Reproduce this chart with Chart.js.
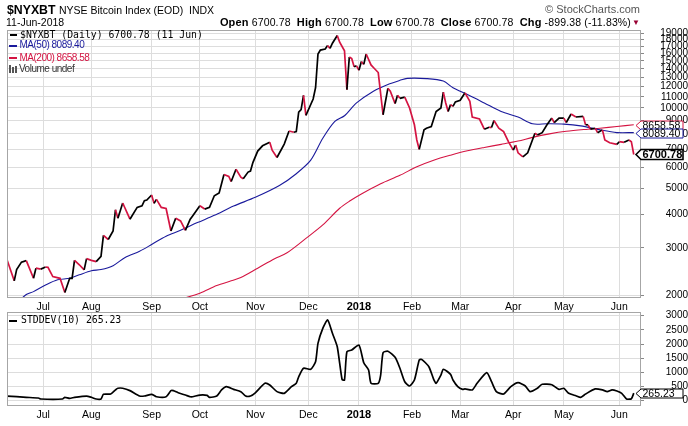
<!DOCTYPE html>
<html>
<head>
<meta charset="utf-8">
<script src="https://cdn.jsdelivr.net/npm/chart.js@4.4.1/dist/chart.umd.min.js"></script>
<style>
  html, body { margin: 0; padding: 0; background: #fff; }
  #wrap { position: relative; width: 688px; height: 426px; overflow: hidden; font-family: 'Liberation Sans', Arial, sans-serif; color: #000; }
  canvas { position: absolute; left: 0; }
  .t { position: absolute; white-space: nowrap; }
  .mono { font-family: 'DejaVu Sans Mono', monospace; font-size: 9.8px; line-height: 10px; }
  .narrow { font-size: 10px; line-height: 10px; letter-spacing: -0.5px; }
  .dash { position: absolute; height: 2px; width: 8px; }
  .q { letter-spacing: 0.15px; }
  .q b { font-size: 11px; }
</style>
</head>
<body>
<div id="wrap">
  <canvas id="priceChart" width="688" height="312" style="top:0"></canvas>
  <canvas id="stdChart" width="688" height="126" style="top:300px"></canvas>

  <div class="t" style="left:7px;top:4px;font-weight:bold;font-size:12.3px;line-height:12px">$NYXBT</div>
  <div class="t" style="left:59px;top:5px;font-size:10.5px;line-height:10.5px">NYSE Bitcoin Index (EOD)</div>
  <div class="t" style="left:189px;top:5px;font-size:10.5px;line-height:10.5px">INDX</div>
  <div class="t" style="left:6px;top:17px;font-size:10.5px;line-height:10.5px">11-Jun-2018</div>
  <div class="t q" style="right:57px;top:16.5px;font-size:10.5px;line-height:11px"><b>Open</b> 6700.78&nbsp; <b>High</b> 6700.78&nbsp; <b>Low</b> 6700.78&nbsp; <b>Close</b> 6700.78&nbsp; <b>Chg</b> -899.38 (-11.83%)</div>
  <div class="t" style="left:632px;top:18.5px;font-size:8px;line-height:8px;color:#990033">&#9660;</div>
  <div class="t" style="right:48px;top:4px;font-size:11px;line-height:11px;color:#555">&copy; StockCharts.com</div>

  <div class="dash" style="left:10px;top:34px;width:7px;background:#000"></div>
  <div class="t mono" style="left:20px;top:30px">$NYXBT (Daily) 6700.78 (11 Jun)</div>
  <div class="dash" style="left:9px;top:44.5px;background:#1a1a9c"></div>
  <div class="t narrow" style="left:19.5px;top:40px;color:#1a1a9c">MA(50) 8089.40</div>
  <div class="dash" style="left:9px;top:57px;background:#d41442"></div>
  <div class="t narrow" style="left:19.5px;top:52.5px;color:#d41442">MA(200) 8658.58</div>
  <div class="t" style="left:9px;top:65px;width:2px;height:8px;background:#555"></div>
  <div class="t" style="left:12px;top:67px;width:2px;height:6px;background:#555"></div>
  <div class="t" style="left:15px;top:66px;width:2px;height:7px;background:#555"></div>
  <div class="t narrow" style="left:19px;top:64px;color:#333">Volume undef</div>

  <div class="dash" style="left:9px;top:319.5px;background:#000"></div>
  <div class="t mono" style="left:21px;top:315px">STDDEV(10) 265.23</div>
</div>

<script>
// x positions are trading-day numbers counted from 12-Jun-2017 (0) to 11-Jun-2018 (260)
const monthStarts = [15, 35, 60, 80, 103, 125, 146, 168, 188, 210, 231, 254];
const monthLabels = ['Jul', 'Aug', 'Sep', 'Oct', 'Nov', 'Dec', '2018', 'Feb', 'Mar', 'Apr', 'May', 'Jun'];

const priceTicks = [2000, 3000, 4000, 5000, 6000, 7000, 8000, 9000, 10000, 11000, 12000,
                    13000, 14000, 15000, 16000, 17000, 18000, 19000];
const stdTicks = [0, 500, 1000, 1500, 2000, 2500, 3000];

// $NYXBT close
const priceIdx = [0, 3, 4, 6, 8, 11, 12, 14, 16, 17, 19, 22, 24, 26, 27, 28, 30, 32, 33, 35,
  37, 39, 40, 42, 44, 45, 46, 48, 51, 54, 56, 57, 58, 60, 61, 62, 64, 66, 68, 70,
  72, 74, 76, 77, 80, 82, 84, 86, 88, 90, 92, 93, 95, 97, 98, 100, 101, 102, 104, 106,
  109, 110, 112, 115, 117, 119, 120, 121, 122, 123, 124, 127, 128, 129, 130, 132, 133, 134, 135, 137,
  138, 140, 141, 142, 143, 144, 145, 146, 147, 148, 149, 151, 152, 154, 156, 158, 159, 161, 162, 163,
  165, 167, 169, 170, 171, 173, 174, 176, 178, 180, 181, 182, 183, 184, 185, 186, 188, 190, 192, 193,
  196, 198, 200, 201, 202, 204, 206, 208, 210, 211, 212, 214, 216, 219, 220, 222, 224, 226, 227, 229,
  231, 232, 234, 236, 239, 240, 241, 242, 244, 245, 247, 248, 250, 253, 254, 256, 258, 259, 260];
const priceVal = [2710, 2260, 2490, 2655, 2690, 2310, 2520, 2500, 2545, 2540, 2345, 2310, 2045, 2310, 2310, 2695, 2595, 2485, 2735, 2695,
  2665, 2790, 3340, 3225, 3470, 4165, 3875, 4415, 3840, 4250, 4310, 4505, 4530, 4730, 4400, 4555, 4250, 4210, 3470, 3875,
  3785, 3490, 3840, 3950, 4310, 4190, 4250, 4700, 4815, 5645, 5550, 5310, 5900, 5515, 5440, 5760, 5810, 6250, 6900, 7220,
  7440, 6955, 6530, 7330, 8200, 8110, 8155, 9650, 9850, 11150, 9375, 10800, 11900, 15900, 16450, 16600, 17100, 16700, 17450, 18650,
  17600, 16350, 11700, 15500, 15300, 14250, 14360, 13830, 14900, 14550, 15900, 14480, 14160, 13560, 9430, 11830, 11550, 10380, 11150, 10860,
  10980, 10000, 8650, 7590, 7000, 8280, 8400, 8520, 9700, 10000, 11450, 10440, 9700, 10290, 10140, 10530, 10680, 11390, 10590, 9250,
  9090, 8330, 8475, 8445, 8980, 8400, 8155, 7480, 6955, 7265, 6800, 6560, 6800, 8040, 7925, 8085, 8650, 9165, 8820, 9165,
  9165, 8820, 9490, 9250, 9300, 8650, 8650, 8330, 8400, 8085, 8280, 7590, 7410, 7310, 7480, 7440, 7590, 7480, 6700.78];

// MA(50)
const ma50Idx = [4, 8, 11, 16, 21, 26, 30, 35, 39, 44, 49, 55, 60, 66, 72, 79, 86, 94, 103, 113,
  120, 126, 131, 136, 140, 145, 152, 158, 163, 166, 174, 181, 185, 191, 198, 205, 212, 218, 224, 231,
  238, 246, 253, 260];
const ma50Val = [1860, 2010, 2060, 2180, 2280, 2310, 2380, 2465, 2490, 2575, 2765, 2915, 3090, 3320, 3490, 3730, 3970, 4300, 4635, 5130,
  5680, 6380, 7700, 8900, 9350, 10440, 11550, 12240, 12680, 12900, 12870, 12600, 11900, 11225, 10440, 9700, 9250, 8725, 8725, 8700,
  8570, 8280, 8090, 8089.40];

// MA(200)
const ma200Idx = [66, 73, 80, 87, 93, 97, 104, 111, 116, 124, 131, 138, 142, 147, 155, 163, 170, 177, 184, 191,
  198, 205, 212, 218, 225, 232, 241, 246, 253, 260];
const ma200Val = [1860, 1940, 2030, 2170, 2260, 2325, 2520, 2735, 2870, 3255, 3655, 4220, 4480, 4770, 5210, 5600, 6030, 6380, 6660, 6915,
  7120, 7310, 7520, 7765, 8000, 8180, 8330, 8400, 8520, 8658.58];

// STDDEV(10)
const stdIdx = [0, 8, 13, 14, 23, 24, 26, 28, 33, 35, 37, 39, 40, 43, 45, 46, 48, 51, 55, 57,
  60, 62, 66, 68, 69, 71, 74, 76, 77, 80, 83, 84, 87, 89, 91, 94, 97, 99, 101, 103,
  107, 109, 112, 115, 118, 120, 121, 123, 126, 128, 129, 131, 133, 135, 137, 139, 140, 141, 143, 146,
  148, 150, 151, 154, 155, 156, 158, 161, 163, 165, 167, 169, 171, 172, 175, 177, 178, 180, 181, 184,
  185, 187, 189, 190, 193, 195, 199, 201, 203, 206, 209, 212, 215, 217, 220, 222, 226, 229, 231, 233,
  236, 238, 240, 244, 247, 249, 251, 253, 255, 257, 259, 260];
const stdVal = [165, 120, 95, 60, 60, 120, 85, 120, 165, 120, 60, 60, 225, 235, 380, 440, 440, 355, 165, 165,
  225, 140, 140, 355, 355, 280, 200, 140, 140, 200, 190, 120, 165, 380, 495, 400, 320, 165, 165, 280,
  615, 555, 320, 260, 495, 615, 845, 1145, 1110, 1375, 2025, 2555, 2850, 2380, 1905, 750, 730, 1730, 1790, 1965,
  1340, 1085, 615, 615, 905, 1695, 1745, 1530, 1145, 670, 520, 730, 1435, 1460, 1200, 755, 615, 905, 1110, 930,
  730, 495, 400, 415, 380, 615, 990, 670, 320, 235, 495, 635, 520, 320, 440, 580, 565, 400, 440, 260,
  175, 120, 235, 415, 380, 320, 380, 340, 260, 60, 70, 265.23];

const UP = '#000000';
const DOWN = '#d41442';
const BLUE = '#1a1a9c';
const GRID = '#dddddd';

const pts = (xs, ys) => xs.map((x, i) => ({ x: x, y: ys[i] }));
const last = arr => arr[arr.length - 1];

// grey box round the plot area
const framePlugin = {
  id: 'frame',
  afterDraw(chart) {
    const a = chart.chartArea, ctx = chart.ctx;
    ctx.save();
    ctx.strokeStyle = '#a6a6a6';
    ctx.lineWidth = 1;
    ctx.strokeRect(Math.round(a.left) + 0.5, Math.round(a.top) + 0.5,
                   Math.round(a.right - a.left) - 1, Math.round(a.bottom - a.top) - 1);
    ctx.restore();
  }
};

// last-value tags on the right axis
const tagPlugin = {
  id: 'tags',
  afterDraw(chart, args, opts) {
    const ctx = chart.ctx, ys = chart.scales.y, a = chart.chartArea;
    (opts.items || []).forEach(t => {
      const py = Math.round(ys.getPixelForValue(t.value)) + 0.5;
      const h = t.bold ? 5 : 4.5, w = 42;
      ctx.save();
      ctx.beginPath();
      ctx.moveTo(a.right - 5, py);
      ctx.lineTo(a.right, py - h);
      ctx.lineTo(a.right + w, py - h);
      ctx.lineTo(a.right + w, py + h);
      ctx.lineTo(a.right, py + h);
      ctx.closePath();
      ctx.fillStyle = '#fff';
      ctx.fill();
      ctx.lineWidth = t.bold ? 1.6 : 1;
      ctx.strokeStyle = t.color;
      ctx.stroke();
      ctx.fillStyle = '#000';
      ctx.font = (t.bold ? 'bold 11px' : '10.5px') + ' "Liberation Sans", Arial, sans-serif';
      ctx.textBaseline = 'middle';
      ctx.textAlign = 'left';
      ctx.fillText(t.text, a.right + 1.5, py + 0.5);
      ctx.restore();
    });
  }
};

function monthAxis(height, pad) {
  return {
    type: 'linear',
    min: 0,
    max: 263,
    afterBuildTicks: s => { s.ticks = monthStarts.map(v => ({ value: v })); },
    afterFit: s => { s.height = height; },
    grid: { color: GRID, drawTicks: false },
    border: { display: false },
    ticks: {
      autoSkip: false,
      maxRotation: 0,
      padding: pad,
      color: '#000',
      font: c => ({
        family: '"Liberation Sans", Arial, sans-serif',
        size: (c.tick && c.tick.value === 146) ? 11 : 10.5,
        weight: (c.tick && c.tick.value === 146) ? 'bold' : 'normal'
      }),
      callback: v => monthLabels[monthStarts.indexOf(v)]
    }
  };
}

function rightAxis(extra) {
  return Object.assign({
    position: 'right',
    afterFit: s => { s.width = 47; },
    grid: { color: GRID, tickLength: 3, tickColor: '#888' },
    border: { display: false },
    ticks: {
      autoSkip: false,
      padding: 0,
      crossAlign: 'far',
      color: '#000',
      font: { family: '"Liberation Sans", Arial, sans-serif', size: 10 },
      callback: v => String(v)
    }
  }, extra);
}

new Chart(document.getElementById('priceChart'), {
  type: 'line',
  data: {
    datasets: [
      {
        label: '$NYXBT',
        data: pts(priceIdx, priceVal),
        borderWidth: 1.7,
        borderColor: UP,
        segment: { borderColor: c => c.p1.parsed.y < c.p0.parsed.y ? DOWN : UP },
        pointRadius: 0,
        tension: 0
      },
      {
        label: 'MA(50)',
        data: pts(ma50Idx, ma50Val),
        borderWidth: 1.1,
        borderColor: BLUE,
        pointRadius: 0,
        tension: 0.3
      },
      {
        label: 'MA(200)',
        data: pts(ma200Idx, ma200Val),
        borderWidth: 1.1,
        borderColor: DOWN,
        pointRadius: 0,
        tension: 0.3
      }
    ]
  },
  options: {
    responsive: false,
    animation: false,
    layout: { padding: { top: 30, left: 7, right: 0, bottom: 0 } },
    plugins: {
      legend: { display: false },
      tooltip: { enabled: false },
      tags: {
        items: [
          { value: last(ma200Val), text: last(ma200Val).toFixed(2), color: DOWN },
          { value: last(ma50Val), text: last(ma50Val).toFixed(2), color: BLUE },
          { value: last(priceVal), text: last(priceVal).toFixed(2), color: '#000', bold: true }
        ]
      }
    },
    scales: {
      x: monthAxis(14, 2.5),
      y: rightAxis({
        type: 'logarithmic',
        min: 1950,
        max: 19550,
        afterBuildTicks: s => { s.ticks = priceTicks.map(v => ({ value: v })); }
      })
    }
  },
  plugins: [framePlugin, tagPlugin]
});

new Chart(document.getElementById('stdChart'), {
  type: 'line',
  data: {
    datasets: [{
      label: 'STDDEV(10)',
      data: pts(stdIdx, stdVal),
      borderWidth: 1.7,
      borderColor: '#000',
      pointRadius: 0,
      tension: 0.2
    }]
  },
  options: {
    responsive: false,
    animation: false,
    layout: { padding: { top: 12, left: 7, right: 0, bottom: 0 } },
    plugins: {
      legend: { display: false },
      tooltip: { enabled: false },
      tags: {
        items: [{ value: last(stdVal), text: last(stdVal).toFixed(2), color: '#000' }]
      }
    },
    scales: {
      x: monthAxis(20, 2.5),
      y: rightAxis({
        type: 'linear',
        min: -187,
        max: 3131,
        afterBuildTicks: s => { s.ticks = stdTicks.map(v => ({ value: v })); }
      })
    }
  },
  plugins: [framePlugin, tagPlugin]
});
</script>
</body>
</html>
